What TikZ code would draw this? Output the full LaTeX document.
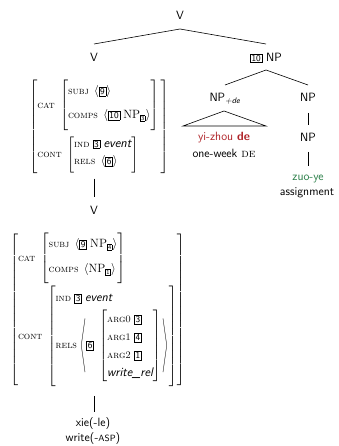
\documentclass[tikz,border=0pt]{standalone}
\usepackage{amsmath}
\usepackage{graphicx}
\usetikzlibrary{calc}
\definecolor{dered}{RGB}{175,35,40}
\definecolor{degreen}{RGB}{40,125,70}
\newcommand\fs[1]{\text{\fontsize{10}{11}\selectfont\rmfamily\scshape #1}}
\newcommand\tg[1]{\text{\setlength{\fboxsep}{0.9pt}\setlength{\fboxrule}{0.5pt}\fbox{\fontsize{9}{9}\selectfont\sffamily #1}}}
\newcommand\tgs[1]{\text{\setlength{\fboxsep}{0.6pt}\setlength{\fboxrule}{0.4pt}\fbox{\fontsize{6}{6}\selectfont\sffamily #1}}}
\newcommand\sr[2]{\rule[-#2]{0pt}{\dimexpr#1+#2\relax}}
\newcommand\avmbox[1]{\left[\begin{array}{@{}l@{}}#1\end{array}\right]}
\newcommand\evt{\textsf{\itshape event}}
\newcommand\bigla{\vcenter{\hbox{\resizebox*{6pt}{54pt}{$\Biggl\langle$}}}}
\newcommand\bigra{\vcenter{\hbox{\resizebox*{6pt}{54pt}{$\Biggr\rangle$}}}}
\begin{document}
\begin{tikzpicture}[x=1pt,y=-1pt,
  lab/.style={font=\fontsize{12}{14}\selectfont\sffamily, inner sep=0pt, text height=8.5pt, text depth=0pt},
  word/.style={font=\fontsize{12}{14}\selectfont\sffamily, inner sep=0pt},
  avmnode/.style={inner sep=0pt},
  edge/.style={line width=0.6pt}]
\useasboundingbox (0,0) rectangle (338,446);
% tree labels
\node[lab] (vtop) at (180,15) {V};
\node[lab] (vl) at (94,57) {V};
\node[lab] (np10) at (266,57) {{\setlength{\fboxsep}{1pt}\setlength{\fboxrule}{0.5pt}\fbox{\fontsize{9}{9}\selectfont 10}}~NP};
\node[lab] (nppde) at (225,97) {NP\textsubscript{\itshape +de}};
\node[lab] (npr1) at (308,97) {NP};
\node[lab] (npr2) at (308,137) {NP};
\node[word, text=dered] (yizhou) at (224,138) {yi-zhou \textbf{de}};
\node[word] (oneweek) at (224,153) {one-week {\rmfamily\scshape de}};
\node[word, text=degreen] (zuoye) at (308,179) {zuo-ye};
\node[word] (assign) at (307,193) {assignment};
\node[lab] (vmid) at (94,210) {V};
\node[word] (xie) at (93,424) {xie(-le)};
\node[word] (writeasp) at (93,439) {write(-{\fontsize{9}{9}\selectfont ASP})};
% AVM 1
\node[avmnode] (avm1) at (99,126.5) {\fontsize{12.8}{14}\selectfont$\renewcommand\arraystretch{0}\setlength\arraycolsep{0pt}
\avmbox{\fs{cat}\;\avmbox{\sr{13pt}{11pt}\fs{subj}\;\left\langle\tg{9}\right\rangle\\ \sr{13pt}{11pt}\fs{comps}\;\left\langle\tg{10}\;\mathrm{NP}_{\tgs{3}}\right\rangle}\sr{0pt}{28pt}\\
\fs{cont}\;\avmbox{\sr{10pt}{7.5pt}\fs{ind}\;\tg{3}\;\evt\\ \sr{10pt}{7.5pt}\fs{rels}\;\left\langle\tg{6}\right\rangle}}$};
% AVM 2
\node[avmnode] (avm2) at (97.5,310) {\fontsize{12.5}{14}\selectfont$\renewcommand\arraystretch{0}\setlength\arraycolsep{0pt}
\avmbox{\fs{cat}\;\avmbox{\sr{14pt}{11pt}\fs{subj}\;\left\langle\tg{9}\;\mathrm{NP}_{\tgs{4}}\right\rangle\\ \sr{14pt}{11pt}\fs{comps}\;\left\langle\mathrm{NP}_{\tgs{1}}\right\rangle}\sr{0pt}{24pt}\\
\fs{cont}\;\avmbox{\sr{16pt}{8pt}\fs{ind}\;\tg{3}\;\evt\\
\sr{0pt}{38pt}\fs{rels}\;\bigla\tg{6}\;\avmbox{\sr{13pt}{5pt}\fs{arg0}\;\tg{3}\\ \sr{13pt}{5pt}\fs{arg1}\;\tg{4}\\ \sr{13pt}{5pt}\fs{arg2}\;\tg{1}\\ \sr{13pt}{5pt}\textsf{\itshape write\_rel}}\bigra}}$};
% connectors
\draw[edge] ($(vtop.center)+(0,14)$) -- ($(vl.center)+(0,-13)$);
\draw[edge] ($(vtop.center)+(0,14)$) -- ($(np10.center)+(0,-13)$);
\draw[edge] ($(np10.center)+(0,13)$) -- ($(nppde.center)+(0,-12)$);
\draw[edge] ($(np10.center)+(0,13)$) -- ($(npr1.center)+(0,-12)$);
\draw[edge] ($(npr1.center)+(0,16)$) -- ($(npr2.center)+(0,-12)$);
\draw[edge] ($(npr2.center)+(0,15)$) -- ($(zuoye.center)+(0,-13)$);
\draw[edge] ($(nppde.center)+(-1,14)$) -- ($(yizhou.center)+(-41,-12)$) -- ($(yizhou.center)+(42,-12)$) -- cycle;
\draw[edge] ($(vmid |- avm1.south)+(0,5)$) -- ($(vmid.center)+(0,-13)$);
\draw[edge] ($(xie |- avm2.south)+(1,9)$) -- ($(xie.center)+(1,-12)$);
\end{tikzpicture}
\end{document}
